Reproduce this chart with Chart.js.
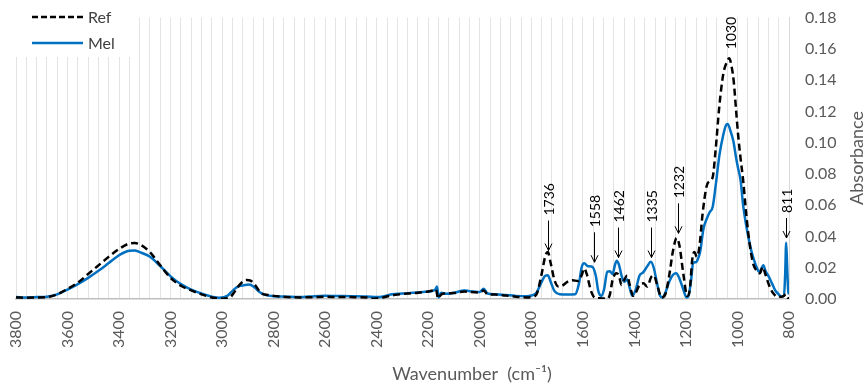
<!DOCTYPE html>
<html>
<head>
<meta charset="utf-8">
<script src="https://cdn.jsdelivr.net/npm/chart.js@4/dist/chart.umd.min.js"></script>
<style>
  html, body { margin: 0; padding: 0; background: #fff; }
  #wrap { width: 864px; height: 384px; }
</style>
</head>
<body>
<div id="wrap"><canvas id="ftirChart" width="864" height="384"></canvas></div>
<script>
// wavenumbers (cm-1) and absorbance
var refWn = [3800, 3760, 3720, 3680, 3640, 3600, 3560, 3520, 3480, 3440, 3400, 3360, 3340, 3320, 3280, 3240, 3200, 3160, 3120, 3080, 3040, 3000,
  2970, 2950, 2930, 2905, 2890, 2870, 2850, 2820, 2800, 2750, 2700, 2640, 2600, 2560, 2500, 2440, 2410, 2380, 2350, 2320, 2280, 2240, 2200,
  2180, 2170, 2162, 2155, 2140, 2100, 2060, 2040, 2000, 1985, 1970, 1940, 1900, 1860, 1820, 1800, 1780, 1760, 1745, 1736, 1725, 1710,
  1695, 1680, 1660, 1640, 1620, 1605, 1595, 1585, 1570, 1560, 1545, 1535, 1520, 1505, 1495, 1485, 1470, 1460, 1450, 1440, 1428, 1418,
  1405, 1395, 1380, 1365, 1350, 1335, 1325, 1310, 1295, 1280, 1265, 1250, 1236, 1225, 1210, 1195, 1185, 1175, 1167, 1158, 1148, 1135,
  1120, 1108, 1096, 1085, 1070, 1055, 1040, 1032, 1022, 1015, 1005, 998, 988, 978, 968, 958, 948, 938, 925, 913, 902, 892, 880, 870,
  858, 848, 830, 820, 812, 806, 800];
var refAbs = [0.001, 0.0008, 0.001, 0.0012, 0.003, 0.0065, 0.0105, 0.016, 0.0215, 0.027, 0.032, 0.0355, 0.0358, 0.035, 0.030, 0.0215, 0.0135, 0.0085, 0.0055, 0.003, 0.001, 0.0002,
  0.001, 0.005, 0.0095, 0.0122, 0.0118, 0.0085, 0.004, 0.0025, 0.002, 0.0013, 0.001, 0.0012, 0.0014, 0.0013, 0.0012, 0.001, 0.0002, 0.0008, 0.002, 0.0028, 0.0035, 0.004, 0.0048,
  0.0055, 0.006, 0.0002, 0.002, 0.0035, 0.0038, 0.0048, 0.0045, 0.0042, 0.0055, 0.003, 0.0028, 0.0022, 0.0015, 0.001, 0.0012, 0.003, 0.016, 0.028, 0.030, 0.023, 0.012,
  0.008, 0.0085, 0.011, 0.012, 0.0115, 0.015, 0.0195, 0.016, 0.006, 0.002, 0.0005, 0.0005, 0.0003, 0.0, 0.003, 0.012, 0.0165, 0.015, 0.009, 0.012, 0.015, 0.009,
  0.002, 0.004, 0.009, 0.010, 0.008, 0.014, 0.015, 0.008, 0.001, 0.003, 0.015, 0.031, 0.039, 0.034, 0.016, 0.002, 0.006, 0.026, 0.030, 0.027, 0.033, 0.055,
  0.072, 0.0755, 0.078, 0.095, 0.124, 0.144, 0.152, 0.154, 0.148, 0.140, 0.120, 0.106, 0.090, 0.076, 0.058, 0.042, 0.030, 0.022, 0.018, 0.0165, 0.0205, 0.016, 0.010, 0.006,
  0.003, 0.0015, 0.0015, 0.002, 0.003, 0.001, 0.0];

var melWn = [3800, 3760, 3720, 3680, 3640, 3600, 3560, 3520, 3480, 3440, 3400, 3360, 3340, 3320, 3280, 3240, 3200, 3160, 3120, 3080, 3040, 3010,
  2980, 2955, 2935, 2915, 2895, 2875, 2855, 2830, 2800, 2750, 2700, 2640, 2600, 2560, 2500, 2440, 2400, 2370, 2340, 2300, 2260, 2220, 2190,
  2172, 2166, 2160, 2150, 2130, 2100, 2060, 2040, 2000, 1985, 1970, 1940, 1900, 1860, 1820, 1800, 1780, 1760, 1745, 1736, 1725, 1710,
  1690, 1660, 1630, 1615, 1605, 1595, 1580, 1563, 1550, 1540, 1528, 1518, 1505, 1495, 1485, 1475, 1469, 1460, 1450, 1440, 1428, 1418,
  1408, 1395, 1380, 1366, 1350, 1336, 1325, 1312, 1300, 1290, 1280, 1265, 1250, 1238, 1225, 1210, 1198, 1190, 1180, 1172, 1162, 1155,
  1145, 1132, 1120, 1108, 1096, 1085, 1070, 1055, 1045, 1038, 1028, 1016, 1005, 998, 988, 978, 966, 955, 945, 936, 925, 917, 908, 900,
  890, 878, 866, 854, 840, 829, 820, 815, 811, 807, 803, 800];
var melAbs = [0.0012, 0.001, 0.0012, 0.0015, 0.003, 0.006, 0.0095, 0.0135, 0.018, 0.023, 0.028, 0.0308, 0.031, 0.030, 0.027, 0.021, 0.0145, 0.0095, 0.006, 0.0035, 0.0015, 0.0008,
  0.002, 0.006, 0.0082, 0.0088, 0.0092, 0.0075, 0.0045, 0.0025, 0.0018, 0.0015, 0.0012, 0.0018, 0.002, 0.0019, 0.0018, 0.0016, 0.0012, 0.0018, 0.003, 0.0035, 0.004, 0.0045, 0.005,
  0.0062, 0.008, 0.001, 0.004, 0.0033, 0.004, 0.0055, 0.005, 0.0045, 0.0065, 0.0035, 0.003, 0.0025, 0.002, 0.0018, 0.0022, 0.004, 0.011, 0.015, 0.0152, 0.011, 0.005,
  0.003, 0.0028, 0.003, 0.010, 0.020, 0.0228, 0.021, 0.0205, 0.015, 0.005, 0.002, 0.006, 0.0175, 0.0178, 0.016, 0.022, 0.0245, 0.022, 0.015, 0.011, 0.0125, 0.007,
  0.002, 0.006, 0.015, 0.017, 0.021, 0.0238, 0.020, 0.010, 0.002, 0.001, 0.004, 0.011, 0.0155, 0.0165, 0.013, 0.006, 0.001, 0.002, 0.012, 0.023, 0.0235, 0.025,
  0.030, 0.045, 0.051, 0.0555, 0.059, 0.072, 0.092, 0.105, 0.111, 0.112, 0.108, 0.101, 0.090, 0.084, 0.076, 0.060, 0.047, 0.0375, 0.030, 0.025, 0.020, 0.0174, 0.019, 0.0216,
  0.0175, 0.0142, 0.010, 0.0057, 0.003, 0.0015, 0.002, 0.015, 0.036, 0.020, 0.005, 0.003];

// peak labels and the absorbance where each arrow points
var peakWn = [1736, 1558, 1462, 1335, 1232, 1030, 811];
var peakTip = [0.031, 0.0235, 0.0265, 0.0265, 0.042, 0.1565, 0.039];

var arrowLen = { 1030: 0, 811: 20 };   // default 30px

function toPoints(xs, ys) {
  return xs.map(function (x, i) { return { x: x, y: ys[i] }; });
}

var FONT = 'Lato, "Open Sans", sans-serif';

var overlay = {
  id: 'overlay',
  afterDraw: function (chart) {
    var ctx = chart.ctx;
    var xs = chart.scales.x, ys = chart.scales.y;
    ctx.save();

    // peak annotations
    ctx.strokeStyle = '#000';
    ctx.fillStyle = '#000';
    ctx.lineWidth = 1;
    ctx.font = '14px ' + FONT;
    peakWn.forEach(function (wn, i) {
      var px = Math.round(xs.getPixelForValue(wn)) + 0.5;
      var tip = ys.getPixelForValue(peakTip[i]);
      var len = arrowLen[wn] !== undefined ? arrowLen[wn] : 30;
      if (len > 0) {
        ctx.beginPath();
        ctx.moveTo(px, tip - len);
        ctx.lineTo(px, tip);
        ctx.moveTo(px - 3.5, tip - 7);
        ctx.lineTo(px, tip);
        ctx.lineTo(px + 3.5, tip - 7);
        ctx.stroke();
      }
      ctx.save();
      ctx.translate(px, tip - len - 5);
      ctx.rotate(-Math.PI / 2);
      ctx.textAlign = 'left';
      ctx.textBaseline = 'middle';
      ctx.fillText(String(wn), 0, 1);
      ctx.restore();
    });

    // legend
    ctx.fillStyle = '#fff';
    ctx.fillRect(0, 0, 133, 57);
    ctx.lineWidth = 2.5;
    ctx.strokeStyle = '#000';
    ctx.setLineDash([6, 3]);
    ctx.beginPath(); ctx.moveTo(32, 17); ctx.lineTo(83, 17); ctx.stroke();
    ctx.setLineDash([]);
    ctx.strokeStyle = '#0070c0';
    ctx.beginPath(); ctx.moveTo(32, 43); ctx.lineTo(83, 43); ctx.stroke();
    ctx.fillStyle = '#404040';
    ctx.font = '16px ' + FONT;
    ctx.textAlign = 'left';
    ctx.textBaseline = 'middle';
    ctx.fillText('Ref', 88, 18);
    ctx.fillText('Mel', 88, 44);

    // axis titles
    ctx.fillStyle = '#595959';
    ctx.font = '18px ' + FONT;
    ctx.textAlign = 'center';
    ctx.fillText('Wavenumber  (cm\u207B\u00B9)', 472, 374);
    ctx.save();
    ctx.translate(857, 158);
    ctx.rotate(-Math.PI / 2);
    ctx.fillText('Absorbance', 0, 0);
    ctx.restore();

    ctx.restore();
  }
};

var ctx = document.getElementById('ftirChart').getContext('2d');
var ftirChart = new Chart(ctx, {
  type: 'line',
  data: {
    datasets: [{
      label: 'Ref',
      data: toPoints(refWn, refAbs),
      borderColor: '#000000',
      borderWidth: 2.5,
      borderDash: [7, 4],
      pointRadius: 0,
      cubicInterpolationMode: 'monotone',
      fill: false
    }, {
      label: 'Mel',
      data: toPoints(melWn, melAbs),
      borderColor: '#0070c0',
      borderWidth: 2.5,
      pointRadius: 0,
      cubicInterpolationMode: 'monotone',
      fill: false
    }]
  },
  options: {
    responsive: false,
    animation: false,
    layout: { padding: { left: 16, top: 16, right: 0, bottom: 0 } },
    plugins: {
      legend: { display: false },
      tooltip: { enabled: false }
    },
    scales: {
      x: {
        type: 'linear',
        reverse: true,
        min: 800,
        max: 3800,
        afterFit: function (scale) { scale.height = 85; },
        grid: { color: '#e3e3e3', lineWidth: 1, drawTicks: false },
        border: { display: true, color: '#bfbfbf', width: 1.5 },
        ticks: {
          stepSize: 40,
          autoSkip: false,
          maxRotation: 90,
          minRotation: 90,
          padding: 12,
          color: '#595959',
          font: { family: FONT, size: 16 },
          callback: function (v) { return v % 200 === 0 ? String(v) : ''; }
        }
      },
      y: {
        position: 'right',
        min: 0,
        max: 0.18,
        afterFit: function (scale) { scale.width = 75; },
        grid: { display: false },
        border: { display: true, color: '#d9d9d9' },
        ticks: {
          stepSize: 0.02,
          padding: 8,
          color: '#595959',
          font: { family: FONT, size: 16 },
          callback: function (v) { return v.toFixed(2); }
        }
      }
    }
  },
  plugins: [overlay]
});
</script>
</body>
</html>
